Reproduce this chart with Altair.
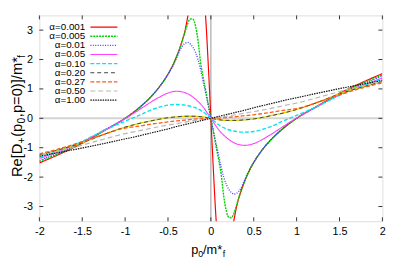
import altair as alt
import pandas as pd

# ---------------- data ----------------
X_NARROW = [-2, -1.75, -1.5, -1.25, -1, -0.9, -0.8, -0.7, -0.6, -0.5, -0.45, -0.4, -0.35, -0.3,
            -0.27, -0.24, -0.21, -0.18, -0.15, -0.12, -0.09, -0.06, -0.03, 0,
            0.03, 0.06, 0.09, 0.12, 0.15, 0.18, 0.21, 0.24, 0.27, 0.3, 0.35, 0.4, 0.45, 0.5,
            0.6, 0.7, 0.8, 0.9, 1, 1.25, 1.5, 1.75, 2]

A001 = [-1.52, -1.2, -0.85, -0.43, 0.0, 0.21, 0.45, 0.73, 1.07, 1.5, 1.77, 2.1, 2.5, 3.0,
        3.45, 3.9, 4.4, 4.9, 5.3, 5.2, 4.5, 3.4, 1.8, 0.0,
        -1.8, -3.4, -4.5, -5.2, -5.3, -4.9, -4.4, -3.9, -3.45, -3.0, -2.5, -2.1, -1.77, -1.5,
        -1.07, -0.73, -0.45, -0.21, 0.0, 0.43, 0.85, 1.2, 1.52]

A005 = [-1.47, -1.17, -0.83, -0.42, 0.0, 0.21, 0.45, 0.73, 1.07, 1.5, 1.77, 2.1, 2.48, 2.95,
        3.22, 3.38, 3.37, 3.15, 2.65, 1.9, 1.4, 0.95, 0.48, 0.0,
        -0.48, -0.95, -1.4, -1.9, -2.65, -3.15, -3.37, -3.38, -3.22, -2.95, -2.48, -2.1, -1.77, -1.5,
        -1.07, -0.73, -0.45, -0.21, 0.0, 0.42, 0.83, 1.17, 1.47]

A01 = [-1.43, -1.14, -0.81, -0.41, 0.0, 0.21, 0.45, 0.73, 1.07, 1.5, 1.74, 2.05, 2.38, 2.55,
       2.58, 2.53, 2.42, 2.25, 2.0, 1.65, 1.25, 0.84, 0.42, 0.0,
       -0.42, -0.84, -1.25, -1.65, -2.0, -2.25, -2.42, -2.53, -2.58, -2.55, -2.38, -2.05, -1.74, -1.5,
       -1.07, -0.73, -0.45, -0.21, 0.0, 0.41, 0.81, 1.14, 1.43]

X_BROAD = [-2, -1.75, -1.5, -1.25, -1, -0.9, -0.8, -0.7, -0.6, -0.5, -0.4, -0.3, -0.2, -0.1, 0,
           0.1, 0.2, 0.3, 0.4, 0.5, 0.6, 0.7, 0.8, 0.9, 1, 1.25, 1.5, 1.75, 2]

A05 = [-1.37, -1.1, -0.8, -0.42, -0.01, 0.17, 0.36, 0.55, 0.72, 0.86, 0.92, 0.87, 0.7, 0.42, 0.0,
       -0.42, -0.7, -0.87, -0.92, -0.86, -0.72, -0.55, -0.36, -0.17, 0.01, 0.42, 0.8, 1.1, 1.37]

A10 = [-1.33, -1.08, -0.78, -0.42, -0.1, 0.02, 0.15, 0.28, 0.38, 0.45, 0.47, 0.45, 0.38, 0.24, 0.0,
       -0.24, -0.38, -0.45, -0.47, -0.45, -0.38, -0.28, -0.15, -0.02, 0.1, 0.42, 0.78, 1.08, 1.33]

A20 = [-1.25, -1.05, -0.83, -0.55, -0.3, -0.22, -0.15, -0.09, -0.03, 0.02, 0.05, 0.07, 0.07, 0.05, 0.0,
       -0.05, -0.07, -0.07, -0.05, -0.02, 0.03, 0.09, 0.15, 0.22, 0.3, 0.55, 0.83, 1.05, 1.25]

A27 = [-1.21, -1.02, -0.8, -0.55, -0.33, -0.29, -0.25, -0.2, -0.16, -0.12, -0.09, -0.06, -0.03, -0.01, 0.0,
       0.01, 0.03, 0.06, 0.09, 0.12, 0.16, 0.2, 0.25, 0.29, 0.33, 0.55, 0.8, 1.02, 1.21]

A50 = [-1.27, -1.1, -0.91, -0.71, -0.52, -0.46, -0.4, -0.34, -0.28, -0.23, -0.18, -0.13, -0.08, -0.04, 0.0,
       0.04, 0.08, 0.13, 0.18, 0.23, 0.28, 0.34, 0.4, 0.46, 0.52, 0.71, 0.91, 1.1, 1.27]

A100 = [-1.29, -1.15, -1.01, -0.86, -0.7, -0.64, -0.57, -0.5, -0.43, -0.36, -0.28, -0.21, -0.14, -0.07, 0.0,
        0.07, 0.14, 0.21, 0.28, 0.36, 0.43, 0.5, 0.57, 0.64, 0.7, 0.86, 1.01, 1.15, 1.29]

LABELS = ["α=0.001", "α=0.005", "α=0.01", "α=0.05", "α=0.10", "α=0.20", "α=0.27", "α=0.50", "α=1.00"]
XS = [X_NARROW, X_NARROW, X_NARROW, X_BROAD, X_BROAD, X_BROAD, X_BROAD, X_BROAD, X_BROAD]
YS = [A001, A005, A01, A05, A10, A20, A27, A50, A100]

XTICKS = [-2, -1.5, -1, -0.5, 0, 0.5, 1, 1.5, 2]
YTICKS = [-3, -2, -1, 0, 1, 2, 3]

# ---------------- styles ----------------
COLORS = ["#ff0000", "#00d000", "#3a3aff", "#ff40ff", "#00e5ee", "#404040", "#ff5a1a", "#b8b8b8", "#101010"]
DASHES = [[1, 0], [2, 1], [1, 1.5], [1, 0], [4, 2], [4, 3], [4, 2], [5, 3], [1.5, 1]]
WIDTHS = [1.2, 1.4, 1.3, 1.1, 1.4, 1.0, 1.3, 1.2, 1.2]

FONT = "Liberation Sans"
XMIN, XMAX, YMIN, YMAX = -2, 2, -3.5, 3.5
W, H = 350, 210

xs = alt.Scale(domain=[XMIN, XMAX], nice=False, zero=False)
ys = alt.Scale(domain=[YMIN, YMAX], nice=False, zero=False)
x_axis = alt.Axis(values=XTICKS, labelExpr="'' + datum.value", title=None, ticks=False, domain=False,
                  grid=False, labelPadding=5, labelFontSize=11, labelColor="#000", labelFont=FONT,
                  labelFlush=False, labelOverlap=False)
y_axis = alt.Axis(values=YTICKS, labelExpr="'' + datum.value", title=None, ticks=False, domain=False,
                  grid=False, labelPadding=7, labelFontSize=11, labelColor="#000", labelFont=FONT,
                  labelOverlap=False, labelFlush=False)


def X(field="x"):
    return alt.X(field + ":Q", scale=xs, axis=x_axis)


def Y(field="y"):
    return alt.Y(field + ":Q", scale=ys, axis=y_axis)


layers = []

# zero axes
layers.append(alt.Chart(pd.DataFrame({"x": [XMIN, XMAX], "y": [0, 0]})).mark_line(
    color="#d4d4d4", strokeWidth=2).encode(x=X(), y=Y()))
layers.append(alt.Chart(pd.DataFrame({"x": [0, 0], "y": [YMIN, YMAX]})).mark_line(
    color="#a8a8a8", strokeWidth=1.2).encode(x=X(), y=Y()))

# inward ticks on all four sides
tl_y = 4 * (YMAX - YMIN) / H
tl_x = 4 * (XMAX - XMIN) / W
tick_rows = []
for t in XTICKS:
    tick_rows.append({"x": t, "x2": t, "y": YMIN, "y2": YMIN + tl_y})
    tick_rows.append({"x": t, "x2": t, "y": YMAX, "y2": YMAX - tl_y})
for t in YTICKS:
    tick_rows.append({"x": XMIN, "x2": XMIN + tl_x, "y": t, "y2": t})
    tick_rows.append({"x": XMAX, "x2": XMAX - tl_x, "y": t, "y2": t})
layers.append(alt.Chart(pd.DataFrame(tick_rows)).mark_rule(color="#333", strokeWidth=1).encode(
    x=X(), x2="x2:Q", y=Y(), y2="y2:Q"))

# curves
for i in range(len(LABELS)):
    df = pd.DataFrame({"x": XS[i], "y": YS[i]})
    if LABELS[i] == "α=0.20":
        layers.append(alt.Chart(df).mark_line(color="#d8d800", strokeWidth=1.3, clip=True,
                                              interpolate="monotone").encode(x=X(), y=Y()))
    layers.append(alt.Chart(df).mark_line(color=COLORS[i], strokeDash=DASHES[i], strokeWidth=WIDTHS[i],
                                          clip=True, interpolate="monotone").encode(x=X(), y=Y()))

# legend (gnuplot style: label then sample)
row_h = 0.31
for i in range(len(LABELS)):
    yy = 3.1 - i * row_h
    layers.append(alt.Chart(pd.DataFrame({"x": [-1.465], "y": [yy], "t": [LABELS[i]]})).mark_text(
        align="right", baseline="middle", fontSize=10, font=FONT, color="#000").encode(
        x=X(), y=Y(), text="t:N"))
    layers.append(alt.Chart(pd.DataFrame({"x": [-1.405, -1.09], "y": [yy, yy]})).mark_line(
        color=COLORS[i], strokeDash=DASHES[i], strokeWidth=WIDTHS[i]).encode(x=X(), y=Y()))


# axis titles built from pieces (for sub/superscripts)
def piece(text, px, py, size, angle=0, align="left"):
    return alt.Chart(pd.DataFrame({"t": [text]})).mark_text(
        align=align, baseline="alphabetic", fontSize=size, font=FONT, color="#000", angle=angle).encode(
        x=alt.value(px), y=alt.value(py), text="t:N")


# x title: p0/m*f  (plot coords: page - 40, page - 13)
bx, by = 195 - 40, 256 - 13
layers += [piece("p", bx, by, 13), piece("0", bx + 7, by + 3, 9), piece("/m*", bx + 12, by, 13),
           piece("f", bx + 32, by + 3, 9)]

# y title rotated: Re[D+(p0,p=0)]/m*f
S = 15
sub = 3.5
tx = 22 - 40
ty = 178 - 13
parts = [("Re[D", 0, S, 0), ("+", 2.29 * S, 0.7 * S, sub), ("(p", 2.74 * S, S, 0),
         ("0", 3.64 * S, 0.7 * S, sub), (",p=0)]/m*", 4.08 * S, S, 0), ("f", 8.1 * S, 0.7 * S, sub)]
for txt, off, size, dx in parts:
    layers.append(piece(txt, tx + dx, ty - off, size, angle=270))

chart = alt.layer(*layers).properties(
    width=W, height=H,
    autosize=alt.AutoSizeParams(type="none"),
    padding={"left": 32, "top": 5, "right": 19, "bottom": 37},
).configure_view(stroke="#222", strokeWidth=1).configure_axisY(labelOverlap=False).configure(
    background="white")

chart.save("out.html", embed_options={"renderer": "svg", "actions": False})
